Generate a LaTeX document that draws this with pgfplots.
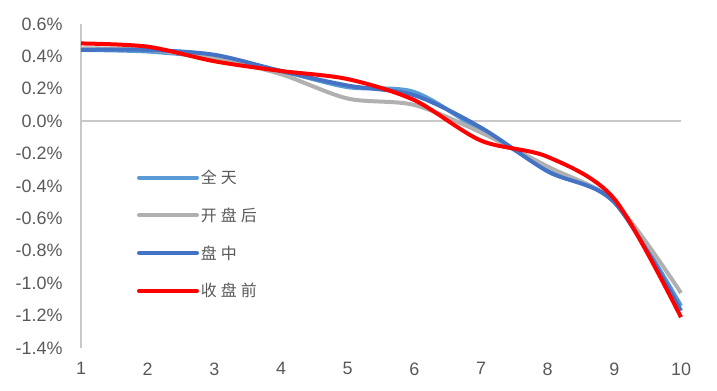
\documentclass[border=0pt]{standalone}
\usepackage{pgfplots}
\pgfplotsset{compat=1.18}
\usepackage{fontspec}
\setmainfont{Liberation Sans}
\newfontfamily\cjk[LetterSpace=25]{Noto Sans CJK SC}
\definecolor{cLB}{HTML}{5B9BD5}
\definecolor{cGR}{HTML}{B0B0B0}
\definecolor{cBL}{HTML}{4472C4}
\definecolor{cRD}{HTML}{FF0000}
\definecolor{cTX}{HTML}{595959}
\definecolor{cAX}{HTML}{C8C8C8}
\begin{document}
\begin{tikzpicture}
\begin{axis}[
  scale only axis,
  width=600bp, height=324bp,
  xmin=1, xmax=10, ymin=-1.4, ymax=0.6,
  axis line style={draw=none},
  major tick length=0pt,
  xtick={1,...,10},
  ytick={-1.4,-1.2,...,0.61},
  /pgf/number format/assume math mode=true,
  yticklabel={\pgfmathprintnumber[fixed,fixed zerofill,precision=1]{\tick}\%},
  tick label style={font=\fontsize{18}{20}\selectfont, text=cTX},
  xticklabel style={yshift=-11bp},
  yticklabel style={xshift=-15bp},
  clip=false,
  legend style={draw=none, fill=none, at={(0.093,0.556)}, anchor=north west,
    font=\cjk\fontsize{16}{18}\selectfont, text=cTX, row sep=18.7bp,
    inner sep=0pt, nodes={inner sep=2pt}},
  legend cell align=left,
  legend image code/.code={\draw[#1, line width=4bp, line cap=round] (0bp,0bp) -- (58bp,0bp);},
]
\coordinate (bl) at (rel axis cs:0,0);
\coordinate (tr) at (rel axis cs:1,1);
\draw[cAX, line width=1.5bp] (axis cs:1,-1.4) -- (axis cs:1,0.6);
\draw[cAX, line width=1.5bp] (axis cs:1,0) -- (axis cs:10,0);
\addplot[cLB, line width=4bp, smooth, tension=0.5] coordinates {(1,0.44)(2,0.43)(3,0.39)(4,0.31)(5,0.21)(6,0.18)(7,-0.06)(8,-0.29)(9,-0.50)(10,-1.14)};
\addlegendentry{全天}
\addplot[cGR, line width=4bp, smooth, tension=0.5] coordinates {(1,0.45)(2,0.44)(3,0.39)(4,0.29)(5,0.14)(6,0.10)(7,-0.07)(8,-0.28)(9,-0.50)(10,-1.06)};
\addlegendentry{开盘后}
\addplot[cBL, line width=4bp, smooth, tension=0.5] coordinates {(1,0.44)(2,0.44)(3,0.41)(4,0.31)(5,0.22)(6,0.16)(7,-0.04)(8,-0.31)(9,-0.50)(10,-1.17)};
\addlegendentry{盘中}
\addplot[cRD, line width=4bp, smooth, tension=0.5] coordinates {(1,0.48)(2,0.46)(3,0.37)(4,0.31)(5,0.26)(6,0.13)(7,-0.12)(8,-0.22)(9,-0.48)(10,-1.21)};
\addlegendentry{收盘前}
\end{axis}
\pgfresetboundingbox
\path ([shift={(-81bp,-42bp)}]bl) rectangle ([shift={(36bp,24bp)}]tr);
\end{tikzpicture}
\end{document}
